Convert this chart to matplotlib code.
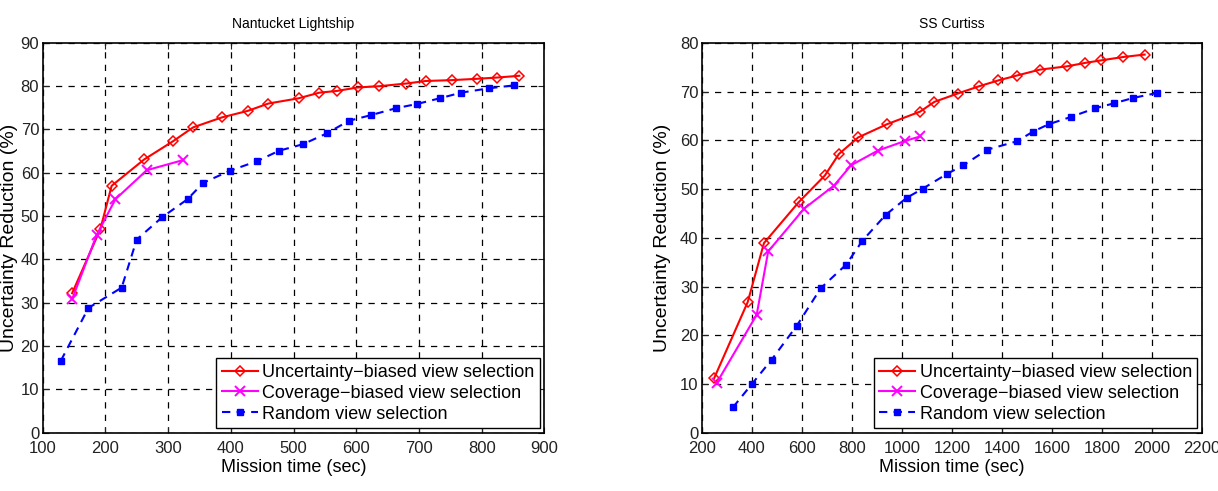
import numpy as np
import matplotlib
matplotlib.use("Agg")
import matplotlib.pyplot as plt

plt.rcParams['font.family'] = ['Liberation Sans', 'DejaVu Sans']

# Nantucket Lightship
nl_unc_x = [147, 192, 210, 262, 308, 340, 386, 427, 460, 508, 541, 569, 602, 637, 679, 711, 753, 792, 825, 860]
nl_unc_y = [32.2, 47.0, 57.0, 63.1, 67.3, 70.5, 72.8, 74.3, 76.0, 77.2, 78.5, 78.9, 79.7, 80.0, 80.6, 81.2, 81.4, 81.7, 82.0, 82.4]
nl_cov_x = [147, 186, 216, 266, 323]
nl_cov_y = [30.8, 45.6, 53.9, 60.6, 62.9]
nl_rnd_x = [129, 173, 226, 250, 291, 331, 356, 399, 442, 477, 515, 553, 588, 623, 663, 697, 733, 767, 811, 852]
nl_rnd_y = [16.6, 28.8, 33.5, 44.6, 49.8, 53.9, 57.7, 60.5, 62.7, 65.1, 66.6, 69.1, 72.0, 73.3, 74.9, 75.9, 77.2, 78.5, 79.5, 80.2]

# SS Curtiss
sc_unc_x = [249, 383, 448, 587, 692, 748, 825, 940, 1073, 1130, 1223, 1309, 1386, 1460, 1551, 1662, 1734, 1796, 1885, 1971]
sc_unc_y = [11.2, 26.8, 38.9, 47.3, 52.8, 57.2, 60.6, 63.3, 65.9, 67.9, 69.6, 71.1, 72.3, 73.3, 74.5, 75.2, 75.9, 76.4, 77.1, 77.6]
sc_cov_x = [260, 419, 465, 609, 728, 797, 904, 1014, 1073]
sc_cov_y = [10.3, 24.2, 37.2, 46.0, 50.7, 54.9, 57.9, 59.9, 60.8]
sc_rnd_x = [324, 400, 479, 580, 676, 777, 842, 935, 1019, 1084, 1180, 1246, 1342, 1460, 1525, 1587, 1676, 1774, 1849, 1925, 2019]
sc_rnd_y = [5.2, 10.0, 15.0, 22.0, 29.7, 34.5, 39.4, 44.7, 48.2, 50.1, 53.1, 54.9, 58.1, 59.8, 61.8, 63.3, 64.8, 66.6, 67.6, 68.7, 69.7]

labels = ['Uncertainty\u2212biased view selection',
          'Coverage\u2212biased view selection',
          'Random view selection']


def draw(ax, title, ux, uy, cx, cy, rx, ry, xlim, xticks, ylim, yticks):
    ax.plot(ux, uy, color='red', lw=1.5, marker='D', ms=5.5, mfc='none',
            mec='red', mew=1.1, label=labels[0])
    ax.plot(cx, cy, color='magenta', lw=1.5, marker='x', ms=6.5, mew=1.4,
            label=labels[1])
    ax.plot(rx, ry, color='blue', lw=1.5, ls=(0, (4, 3)), marker='s', ms=4,
            mfc='blue', mec='blue', label=labels[2])
    ax.set_xlim(*xlim)
    ax.set_ylim(*ylim)
    ax.set_xticks(xticks)
    ax.set_yticks(yticks)
    ax.grid(True, color='black', ls=(0, (5, 5)), lw=0.9)
    ax.tick_params(direction='in', length=4, labelsize=12, colors='#222222',
                   top=True, right=True)
    ax.tick_params(axis='x', pad=6)
    ax.tick_params(axis='y', pad=2.5)
    for s in ax.spines.values():
        s.set_linewidth(1.2)
    ax.set_title(title, fontsize=10, pad=11)
    ax.set_xlabel('Mission time (sec)', fontsize=13, labelpad=2)
    ax.set_ylabel('Uncertainty Reduction (%)', fontsize=14)
    leg = ax.legend(loc='lower right', fontsize=13, fancybox=False,
                    edgecolor='black', framealpha=1, handlelength=2.0,
                    borderpad=0.3, labelspacing=0.22, handletextpad=0.25,
                    borderaxespad=0.25)
    leg.get_frame().set_linewidth(1.0)


fig = plt.figure(figsize=(12.18, 4.91), dpi=100)
ax1 = fig.add_axes([0.035, 0.1187, 0.412, 0.794])
ax2 = fig.add_axes([0.5763, 0.1187, 0.4105, 0.794])

draw(ax1, 'Nantucket Lightship', nl_unc_x, nl_unc_y, nl_cov_x, nl_cov_y,
     nl_rnd_x, nl_rnd_y, (100, 900), range(100, 901, 100), (0, 90), range(0, 91, 10))
draw(ax2, 'SS Curtiss', sc_unc_x, sc_unc_y, sc_cov_x, sc_cov_y,
     sc_rnd_x, sc_rnd_y, (200, 2200), range(200, 2201, 200), (0, 80), range(0, 81, 10))

ax1.yaxis.set_label_coords(-0.049, 0.5)
ax2.yaxis.set_label_coords(-0.061, 0.5)

fig.savefig('out.png', dpi=100)
